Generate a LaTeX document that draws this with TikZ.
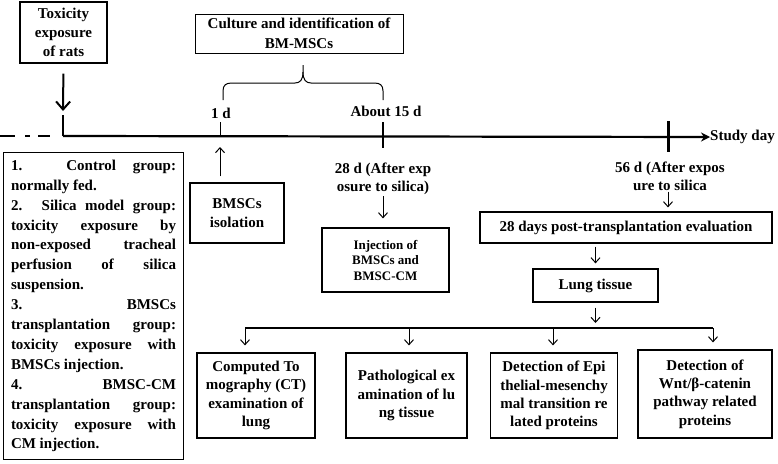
\documentclass[tikz,border=0pt]{standalone}
\usepackage{fontspec}
\setmainfont{Liberation Serif}
\usetikzlibrary{arrows.meta}

\tikzset{
  box/.style={draw, line width=1.2pt, align=center, inner sep=0pt},
  lbl/.style={align=center, inner sep=0pt},
  arr/.style={-{Straight Barb[length=5pt,width=9pt]}, line width=1pt},
  bigarr/.style={-{Straight Barb[length=8pt,width=14pt]}, line width=2pt},
  small/.style={font=\bfseries\fontsize{13}{15.5}\selectfont},
  tight/.style={font=\bfseries\fontsize{15}{18.3}\selectfont},
}

\begin{document}
\begin{tikzpicture}[x=1pt, y=-1pt, font=\bfseries\fontsize{15}{19}\selectfont]
\useasboundingbox (0,0) rectangle (778,463);

\node [box, minimum width=87, minimum height=61] (tox) at (63.5,32.5) {Toxicity\\exposure\\of rats};
\node [box, line width=1pt, minimum width=208, minimum height=39, font=\bfseries\fontsize{15}{20}\selectfont] (culture) at (299,33.5) {Culture and identification of\\BM-MSCs};

% time axis
\coordinate (t0) at (63,136);
\coordinate (t1) at (220,136);
\coordinate (t15) at (383,136);
\coordinate (t56) at (668,136);
\node [lbl, anchor=west] (study) at (710,137) {Study day};
\draw [line width=2.2pt, -{Stealth[length=9pt,width=9pt]}] (t0) -- (study.west);
\draw [line width=2.5pt] (0,136) -- (15,136) (25,136) -- (30,136) (38,136) -- (50,136);

\draw [line width=2.5pt] (t0) -- ++(0,-21);
\draw [line width=1pt] (t1) -- ++(0,-14);
\draw [line width=1.6pt] (t15) ++(0,-14) -- ++(0,26);
\draw [line width=3pt] (t56) ++(0,-15) -- ++(0,31);

\node [lbl] (d1) at (221,113) {1 d};
\node [lbl] (d15) at (386,111) {About 15 d};
\node [lbl, tight] (d28) at (383,179) {28 d (After exp\\osure to silica)};
\node [lbl, tight] (d56) at (670,176) {56 d (After expos\\ure to silica};

% brace over the culture period
\draw [line width=1pt] (223,100) -- (223,91) .. controls (223,85) and (226,83) .. (232,83) -- (295,83) .. controls (300,83) and (303,80) .. (303,72) -- (303,65);
\draw [line width=1pt] (383,100) -- (383,91) .. controls (383,85) and (380,83) .. (374,83) -- (311,83) .. controls (306,83) and (303,80) .. (303,72);

\coordinate (toxtip) at (63,111);
\draw [bigarr, shorten <=10pt] (tox.south) -- (toxtip);

\node [box, minimum width=94, minimum height=60, font=\bfseries\fontsize{15}{18.5}\selectfont] (iso) at (237,213) {BMSCs\\isolation};
\draw [arr, shorten <=6pt, shorten >=11pt] (iso.north -| t1) -- (t1);

\node [box, small, minimum width=127, minimum height=64] (inj) at (385.5,260) {Injection of\\BMSCs and\\BMSC-CM};
\draw [arr, shorten <=1pt, shorten >=9pt] (d28.south) -- (d28.south |- inj.north);

\node [box, minimum width=292, minimum height=31] (eval) at (626,227.5) {28 days post-transplantation evaluation};
\draw [arr, shorten <=1pt, shorten >=4pt] (d56.south -| t56) -- (t56 |- eval.north);

\node [box, minimum width=125, minimum height=33] (lung) at (595.5,285.5) {Lung tissue};
\draw [arr, shorten <=3pt, shorten >=5pt] (lung.north |- eval.south) -- (lung.north);

% groups
\node [box, line width=1pt, anchor=north west, text width=165, minimum height=307, inner xsep=7.5pt, inner ysep=5pt, align=justify, font=\bfseries\fontsize{15}{19.9}\selectfont] (groups) at (3,152)
  {\parindent=0pt\parskip=0pt\hyphenpenalty=10000\exhyphenpenalty=10000
   1. Control group:\linebreak normally fed.\par
   2. Silica model group:\linebreak toxicity exposure by\linebreak non-exposed tracheal\linebreak perfusion of silica\linebreak suspension.\par
   3. BMSCs\linebreak transplantation group:\linebreak toxicity exposure with\linebreak BMSCs injection.\par
   4. BMSC-CM\linebreak transplantation group:\linebreak toxicity exposure with\linebreak CM injection.};

% evaluations
\node [box, tight, minimum width=118, minimum height=85] (ct) at (256,395.5) {Computed To\\mography (CT)\\examination of\\lung};
\node [box, tight, minimum width=121, minimum height=85] (path) at (406.5,395.5) {Pathological ex\\amination of lu\\ng tissue};
\node [box, tight, minimum width=127, minimum height=85] (emt) at (554,395.5) {Detection of Epi\\thelial-mesenchy\\mal transition re\\lated proteins};
\node [box, tight, minimum width=134, minimum height=88] (wnt) at (705,394) {Detection of\\Wnt/β-catenin\\pathway related\\proteins};

\coordinate (split) at (595.5,328);
\coordinate (s1) at (245,328);
\coordinate (s2) at (409,328);
\coordinate (s3) at (553,328);
\coordinate (s4) at (713,328);
\draw [arr, shorten <=5pt, shorten >=5pt] (lung.south) -- (split);
\draw [line width=1.2pt] (s1) -- (s4);
\foreach \s/\b in {s1/ct, s2/path, s3/emt, s4/wnt}
  \draw [arr, shorten >=7pt] (\s) -- (\s |- \b.north);

\end{tikzpicture}
\end{document}
